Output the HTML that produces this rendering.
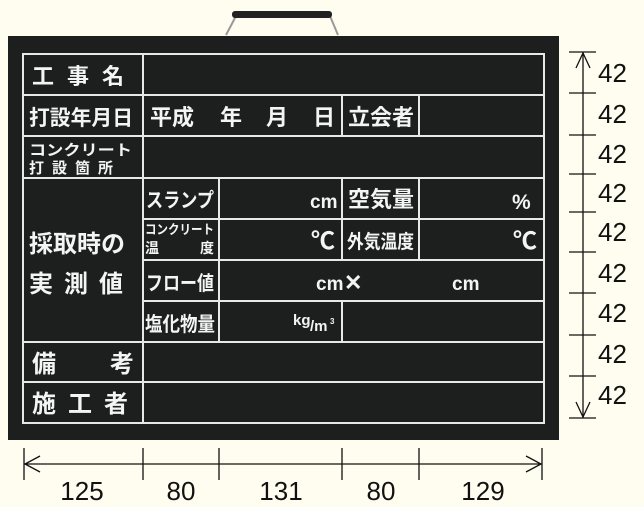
<!DOCTYPE html>
<html><head><meta charset="utf-8"><style>
html,body{margin:0;padding:0;background:#fffdf0;}
svg{display:block}
.t{font-family:"Liberation Sans","Noto Sans CJK JP",sans-serif;font-weight:bold;fill:#f4f4f4;}
.d{font-family:"Liberation Sans",sans-serif;fill:#111;font-size:26px;}
</style></head><body>
<svg width="644" height="507" viewBox="0 0 644 507" xmlns="http://www.w3.org/2000/svg">
<rect width="644" height="507" fill="#fffdf0"/>
<path d="M226 35 L236 16 L330 16 L338 35" fill="none" stroke="#999" stroke-width="2"/>
<rect x="232" y="11" width="100" height="7" rx="3" fill="#222"/>
<rect x="8" y="36" width="551" height="404" fill="#1d1f1f"/>
<g stroke="#e8e8e8" stroke-width="2" fill="none">
<rect x="23" y="54" width="521" height="369"/>
<line x1="23" y1="95" x2="544" y2="95"/>
<line x1="23" y1="136" x2="544" y2="136"/>
<line x1="23" y1="178" x2="544" y2="178"/>
<line x1="143" y1="219" x2="544" y2="219"/>
<line x1="143" y1="260" x2="544" y2="260"/>
<line x1="143" y1="301" x2="544" y2="301"/>
<line x1="23" y1="342" x2="544" y2="342"/>
<line x1="23" y1="382" x2="544" y2="382"/>
<line x1="143" y1="54" x2="143" y2="423"/>
<line x1="342" y1="95" x2="342" y2="136"/>
<line x1="419" y1="95" x2="419" y2="136"/>
<line x1="219" y1="178" x2="219" y2="342"/>
<line x1="342" y1="178" x2="342" y2="260"/>
<line x1="419" y1="178" x2="419" y2="260"/>
<line x1="342" y1="301" x2="342" y2="342"/>
</g>
<g class="t" font-size="22">
<text x="32" y="84" letter-spacing="13">工事名</text>
<text x="29" y="125" font-size="21" textLength="104" lengthAdjust="spacingAndGlyphs">打設年月日</text>
<text x="150" y="125">平成</text><text x="220" y="125">年</text><text x="266" y="125">月</text><text x="313" y="125">日</text>
<text x="348" y="125">立会者</text>
<text x="29" y="155" font-size="15" textLength="103" lengthAdjust="spacingAndGlyphs">コンクリート</text>
<text x="29" y="173" font-size="15" letter-spacing="8">打設箇所</text>
<text x="29" y="252" font-size="24">採取時の</text>
<text x="29" y="292" font-size="24" letter-spacing="11">実測値</text>
<text x="146" y="207" font-size="20" textLength="68" lengthAdjust="spacingAndGlyphs">スランプ</text>
<text x="310" y="208" font-size="19">cm</text>
<text x="348" y="207" font-size="22" textLength="66" lengthAdjust="spacingAndGlyphs">空気量</text>
<text x="512" y="209" font-size="21">%</text>
<text x="145" y="234" font-size="13" textLength="69" lengthAdjust="spacingAndGlyphs">コンクリート</text>
<text x="145" y="253" font-size="14">温</text><text x="200" y="253" font-size="14">度</text>
<text x="311" y="249" font-size="24">℃</text>
<text x="347" y="248" font-size="19" textLength="67" lengthAdjust="spacingAndGlyphs">外気温度</text>
<text x="513" y="249" font-size="24">℃</text>
<text x="146" y="290" font-size="20" textLength="68" lengthAdjust="spacingAndGlyphs">フロー値</text>
<text x="316" y="290" font-size="19">cm</text><text x="344" y="290" font-size="22">✕</text>
<text x="452" y="290" font-size="19">cm</text>
<text x="145" y="331" font-size="20" textLength="70" lengthAdjust="spacingAndGlyphs">塩化物量</text>
<text x="293" y="325" font-size="15">kg</text><text x="310" y="331" font-size="15">/m</text><text x="330" y="324" font-size="8">3</text>
<text x="32" y="372" font-size="24">備</text><text x="110" y="372" font-size="24">考</text>
<text x="32" y="412" font-size="24" letter-spacing="12">施工者</text>
</g>
<g stroke="#111" stroke-width="1.3" fill="none">
<line x1="583" y1="52" x2="583" y2="418"/>
<line x1="569" y1="52" x2="596" y2="52"/>
<line x1="569" y1="93" x2="596" y2="93"/>
<line x1="569" y1="135" x2="596" y2="135"/>
<line x1="569" y1="174" x2="596" y2="174"/>
<line x1="569" y1="212" x2="596" y2="212"/>
<line x1="569" y1="252" x2="596" y2="252"/>
<line x1="569" y1="293" x2="596" y2="293"/>
<line x1="569" y1="335" x2="596" y2="335"/>
<line x1="569" y1="376" x2="596" y2="376"/>
<line x1="569" y1="418" x2="596" y2="418"/>
<path d="M576 68 L583 53 L590 68"/>
<path d="M576 402 L583 417 L590 402"/>
<line x1="24" y1="464" x2="542" y2="464"/>
<line x1="24" y1="448" x2="24" y2="480"/>
<line x1="542" y1="448" x2="542" y2="480"/>
<line x1="143" y1="448" x2="143" y2="480"/>
<line x1="219" y1="448" x2="219" y2="480"/>
<line x1="342" y1="448" x2="342" y2="480"/>
<line x1="419" y1="448" x2="419" y2="480"/>
<path d="M40 456 L25 464 L40 472"/>
<path d="M526 456 L541 464 L526 472"/>
</g>
<g class="d">
<text x="598" y="82">42</text><text x="598" y="123">42</text><text x="598" y="163">42</text>
<text x="598" y="202">42</text><text x="598" y="241">42</text><text x="598" y="282">42</text>
<text x="598" y="322">42</text><text x="598" y="363">42</text><text x="598" y="404">42</text>
<text x="82" y="500" text-anchor="middle">125</text>
<text x="181" y="500" text-anchor="middle">80</text>
<text x="281" y="500" text-anchor="middle">131</text>
<text x="381" y="500" text-anchor="middle">80</text>
<text x="483" y="500" text-anchor="middle">129</text>
</g>
</svg>
</body></html>
